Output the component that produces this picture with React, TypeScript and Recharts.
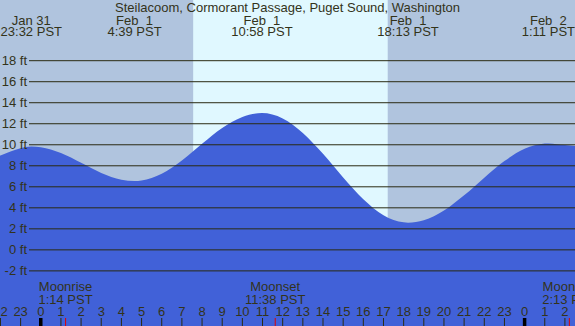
import React from 'react';
import { ComposedChart, Area, XAxis, YAxis, ReferenceArea } from 'recharts';

// tide heights (ft), hours from midnight Feb 1 (PST)
const tideHours = [-2.1, -2, -1, -0.47, 0, 1, 2, 3, 4, 4.65, 5, 6, 7, 8, 9, 10, 10.97, 12, 13, 14, 15, 16, 17, 18, 18.22, 19, 20, 21, 22, 23, 24, 25, 25.18, 26, 26.6];
const tideFeet = [8.92, 8.99, 9.68, 9.83, 9.76, 9.21, 8.28, 7.32, 6.68, 6.55, 6.6, 7.25, 8.51, 10.09, 11.59, 12.65, 13.02, 12.51, 11.13, 9.14, 6.89, 4.82, 3.3, 2.62, 2.59, 2.82, 3.74, 5.19, 6.87, 8.45, 9.61, 10.11, 10.13, 9.97, 9.88];

// high / low events along the top
const eventHours = [-0.47, 4.65, 10.97, 18.22, 25.18];
const eventDates = ['Jan 31', 'Feb  1', 'Feb  1', 'Feb  1', 'Feb  2'];
const eventTimes = ['23:32 PST', '4:39 PST', '10:58 PST', '18:13 PST', '1:11 PST'];

// moon events along the bottom
const moonHours = [1.23, 11.63, 26.22];
const moonNames = ['Moonrise', 'Moonset', 'Moonrise'];
const moonTimes = ['1:14 PST', '11:38 PST', '2:13 PST'];

const sunrise = 7.56;
const sunset = 17.21;

const hourTicks = [-2, -1, 0, 1, 2, 3, 4, 5, 6, 7, 8, 9, 10, 11, 12, 13, 14, 15, 16, 17, 18, 19, 20, 21, 22, 23, 24, 25, 26];
const feetTicks = [-2, 0, 2, 4, 6, 8, 10, 12, 14, 16, 18];

const data = tideHours.map((h, i) => ({ hour: h, feet: tideFeet[i] }));

const W = 575;
const H = 326;
const FONT = '"Liberation Sans", Arial, sans-serif';
const TEXT = '#33331a';
const LINE = '#2a2a12';

const YTick = ({ y, payload }: any) => (
    <g>
        <line x1={29} x2={W} y1={y} y2={y} stroke={LINE} strokeWidth={1} />
        <text x={27} y={y + 4.5} textAnchor="end" fontSize={13} fontFamily={FONT} fill={TEXT}>
            {payload.value} ft
        </text>
    </g>
);

const BottomTick = ({ x, payload }: any) => {
    const v = payload.value;
    const mi = moonHours.indexOf(v);
    if (mi >= 0) {
        return (
            <g>
                <line x1={x} x2={x} y1={H - 8} y2={H} stroke="#e00000" strokeWidth={1} />
                <text x={x} y={291} textAnchor="middle" fontSize={13} fontFamily={FONT} fill={TEXT}>
                    {moonNames[mi]}
                </text>
                <text x={x} y={304} textAnchor="middle" fontSize={13} fontFamily={FONT} fill={TEXT}>
                    {moonTimes[mi]}
                </text>
            </g>
        );
    }
    const midnight = ((v % 24) + 24) % 24 === 0;
    return (
        <g>
            <line x1={x} x2={x} y1={H - 8} y2={H} stroke={midnight ? '#000' : LINE} strokeWidth={midnight ? 3.5 : 1} />
            <text x={x} y={316} textAnchor="middle" fontSize={13} fontFamily={FONT} fill={TEXT}>
                {((v % 24) + 24) % 24}
            </text>
        </g>
    );
};

const TopTick = ({ x, payload }: any) => {
    const i = eventHours.indexOf(payload.value);
    return (
        <g>
            <text x={x} y={24.5} textAnchor="middle" fontSize={13} fontFamily={FONT} fill={TEXT} style={{ whiteSpace: 'pre' }}>
                {eventDates[i]}
            </text>
            <text x={x} y={36} textAnchor="middle" fontSize={13} fontFamily={FONT} fill={TEXT}>
                {eventTimes[i]}
            </text>
        </g>
    );
};

export default function App() {
    return (
        <div style={{ position: 'absolute', left: 0, top: 0, width: W, height: H, background: '#b0c4de', overflow: 'hidden' }}>
            {/* axes are 1px wide/high; the negative margins hand that pixel back to the plot */}
            <ComposedChart width={W} height={H} data={data} margin={{ top: -1, right: 0, bottom: -1, left: -1 }}>
                <XAxis
                    dataKey="hour"
                    type="number"
                    domain={[-2.072, 26.5]}
                    allowDataOverflow
                    ticks={[...hourTicks, ...moonHours]}
                    interval={0}
                    height={1}
                    mirror
                    axisLine={false}
                    tickLine={false}
                    tick={BottomTick}
                />
                <XAxis
                    xAxisId="top"
                    dataKey="hour"
                    orientation="top"
                    type="number"
                    domain={[-2.072, 26.5]}
                    allowDataOverflow
                    ticks={eventHours}
                    interval={0}
                    height={1}
                    mirror
                    axisLine={false}
                    tickLine={false}
                    tick={TopTick}
                />
                <YAxis
                    type="number"
                    domain={[-7.34, 23.87]}
                    allowDataOverflow
                    ticks={feetTicks}
                    interval={0}
                    width={1}
                    mirror
                    axisLine={false}
                    tickLine={false}
                    tick={YTick}
                />
                <ReferenceArea x1={sunrise} x2={sunset} fill="#e0f8ff" fillOpacity={1} stroke="none" />
                <Area
                    type="monotone"
                    dataKey="feet"
                    baseValue={-7.34}
                    stroke="none"
                    fill="#4161d8"
                    fillOpacity={1}
                    isAnimationActive={false}
                    dot={false}
                    activeDot={false}
                />
            </ComposedChart>
            <div
                style={{
                    position: 'absolute',
                    left: 0,
                    top: 0,
                    width: W,
                    textAlign: 'center',
                    fontFamily: FONT,
                    fontSize: 13,
                    lineHeight: '15px',
                    color: TEXT,
                }}
            >
                Steilacoom, Cormorant Passage, Puget Sound, Washington
            </div>
        </div>
    );
}
